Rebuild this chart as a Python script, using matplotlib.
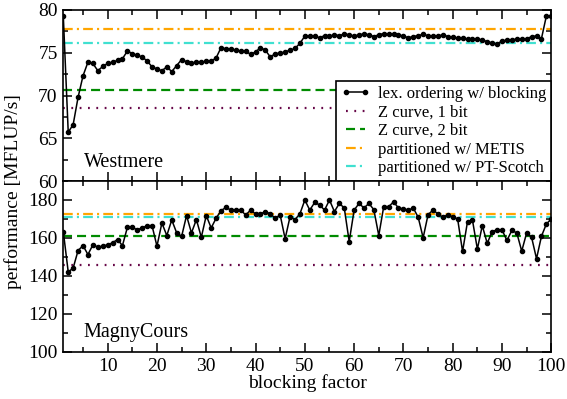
import matplotlib
matplotlib.use("Agg")
import matplotlib.pyplot as plt
from matplotlib.ticker import MultipleLocator
import numpy as np

plt.rcParams['font.family'] = ['Liberation Serif', 'DejaVu Serif']
plt.rcParams['lines.scale_dashes'] = False

# ---------------- data ----------------
blocking = list(range(1, 101))

westmere = [
    79.3, 65.7, 66.6, 69.8, 72.3, 73.9, 73.75, 72.9, 73.4, 73.75,
    73.9, 74.1, 74.3, 75.2, 74.9, 74.7, 74.5, 74.05, 73.35, 73.1,
    72.9, 73.35, 72.8, 73.5, 74.2, 73.95, 73.8, 73.9, 73.9, 74.0,
    74.0, 74.4, 75.6, 75.45, 75.4, 75.3, 75.2, 75.2, 74.8, 75.1,
    75.6, 75.3, 74.5, 74.9, 74.95, 75.1, 75.3, 75.5, 76.1, 76.95,
    77.0, 76.95, 76.75, 77.0, 76.95, 77.1, 77.0, 77.2, 77.1, 76.95,
    77.1, 77.2, 77.1, 76.9, 77.1, 77.25, 77.2, 77.15, 77.1, 76.95,
    76.75, 76.9, 77.0, 77.15, 77.0, 76.95, 76.95, 77.1, 76.9, 76.8,
    76.7, 76.7, 76.6, 76.6, 76.6, 76.5, 76.3, 76.15, 76.0, 76.4,
    76.45, 76.5, 76.6, 76.6, 76.6, 76.9, 76.95, 76.65, 79.3, 79.3,
]

magnycours = [
    163.4, 142.1, 144.2, 153.4, 156.0, 151.3, 156.4, 155.2, 155.7, 156.4,
    157.5, 159.2, 156.0, 165.6, 165.6, 164.3, 165.3, 166.5, 166.5, 155.7,
    167.9, 161.3, 169.5, 162.7, 160.8, 171.8, 162.7, 169.7, 160.4, 171.8,
    165.3, 170.4, 174.4, 176.1, 174.7, 174.7, 174.7, 172.1, 174.7, 172.7,
    172.7, 173.9, 172.7, 170.4, 172.1, 159.6, 171.2, 169.7, 172.7, 180.0,
    174.7, 178.7, 177.4, 174.7, 180.0, 173.9, 178.2, 175.8, 158.1, 174.7,
    178.2, 175.8, 178.2, 174.9, 161.3, 176.5, 176.5, 179.0, 175.8, 175.3,
    174.7, 175.8, 170.9, 160.1, 172.3, 174.7, 172.7, 170.9, 172.3, 171.2,
    170.0, 152.9, 168.6, 169.5, 154.2, 166.5, 157.2, 163.4, 164.3, 164.3,
    158.7, 164.0, 162.7, 153.1, 162.7, 160.4, 149.1, 160.9, 167.4, 170.0,
]

# reference levels (Westmere, MagnyCours)
zcurve1 = [68.5, 146.0]
zcurve2 = [70.7, 161.0]
metis = [77.8, 172.8]
ptscotch = [76.1, 171.2]

panel_names = ["Westmere", "MagnyCours"]
series = [westmere, magnycours]
ylims = [(60, 80), (100, 190)]
ymajor = [5, 20]
yminor = [2.5, 10]

labels = ["lex. ordering w/ blocking", "Z curve, 1 bit", "Z curve, 2 bit",
          "partitioned w/ METIS", "partitioned w/ PT-Scotch"]

# ---------------- figure ----------------
W, H = 567, 399
fig = plt.figure(figsize=(W / 100, H / 100), dpi=100)
left, right = 63.3 / W, 551.3 / W
top, bottom = 1 - 10 / H, 1 - 352 / H
mid = (top + bottom) / 2
ax1 = fig.add_axes([left, mid, right - left, top - mid])
ax2 = fig.add_axes([left, bottom, right - left, mid - bottom])
axes = [ax1, ax2]

c_z1 = '#670748'
c_z2 = '#008B00'
c_me = '#FFA500'
c_pt = '#40E0D0'

for i, ax in enumerate(axes):
    xs = [1, 100]
    ax.plot(xs, [zcurve1[i]] * 2, color=c_z1, lw=1.6, dashes=(1.3, 4.7), label=labels[1])
    ax.plot(xs, [zcurve2[i]] * 2, color=c_z2, lw=1.6, dashes=(6.5, 3.6), label=labels[2])
    ax.plot(xs, [metis[i]] * 2, color=c_me, lw=1.6, dashes=(7, 3, 1.5, 3), label=labels[3])
    ax.plot(xs, [ptscotch[i]] * 2, color=c_pt, lw=1.6, dashes=(7, 3, 1.5, 3), label=labels[4])
    ax.plot(blocking, series[i], color='black', lw=1.1, marker='o', ms=3.0,
            label=labels[0], zorder=5)
    ax.set_xlim(1, 100)
    ax.set_ylim(*ylims[i])
    ax.xaxis.set_major_locator(MultipleLocator(10))
    ax.xaxis.set_minor_locator(MultipleLocator(5))
    ax.yaxis.set_major_locator(MultipleLocator(ymajor[i]))
    ax.yaxis.set_minor_locator(MultipleLocator(yminor[i]))
    ax.tick_params(which='both', direction='in', top=True, right=True,
                   width=1.1, labelsize=14, pad=4)
    ax.tick_params(which='major', length=6.2)
    ax.tick_params(which='minor', length=3.4)
    for s in ax.spines.values():
        s.set_linewidth(1.2)

ax1.tick_params(labelbottom=False)

ax1.text((83.5 - 63.3) / 488, (181 - 166.7) / 171, panel_names[0],
         transform=ax1.transAxes, fontsize=14.5, ha='left', va='baseline')
ax2.text((83.5 - 63.3) / 488, (352 - 337.5) / 171, panel_names[1],
         transform=ax2.transAxes, fontsize=14.5, ha='left', va='baseline')

handles, labs = ax1.get_legend_handles_labels()
order = [labs.index(l) for l in labels]
leg = ax1.legend([handles[k] for k in order], [labs[k] for k in order],
                 loc='lower right', bbox_to_anchor=(1, 0), borderaxespad=0,
                 fontsize=12, frameon=True, fancybox=False, numpoints=2,
                 handlelength=1.7, handletextpad=0.5, borderpad=0.3,
                 labelspacing=0.15)
leg.get_frame().set_edgecolor('black')
leg.get_frame().set_linewidth(1.2)
leg.get_frame().set_alpha(1)
leg.set_zorder(10)

fig.text(0.5 * (left + right), 1 - 387.5 / H, "blocking factor", fontsize=14,
         ha='center', va='baseline')
fig.text(13 / W, 1 - 192 / H, "performance [MFLUP/s]", fontsize=14, rotation=90,
         ha='center', va='center')

fig.savefig("out.png", dpi=100)
